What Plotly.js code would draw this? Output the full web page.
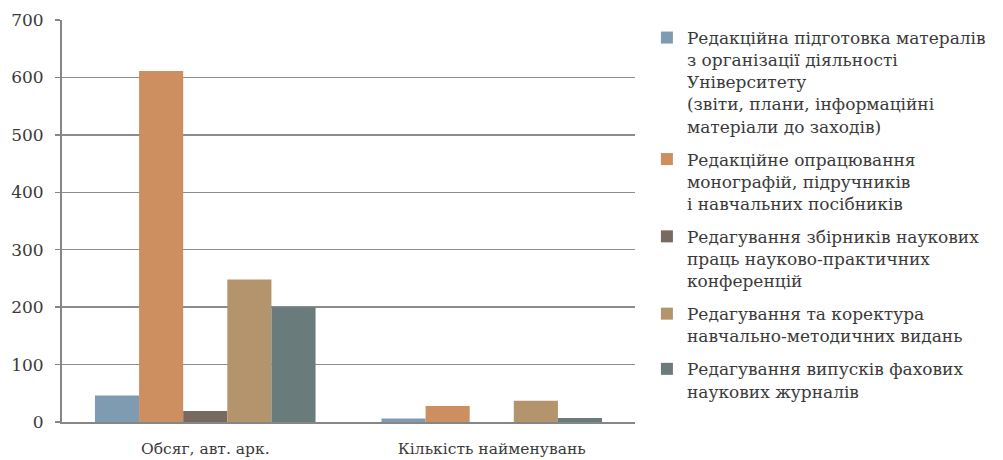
<!DOCTYPE html>
<html>
<head>
<meta charset="utf-8">
<script src="https://cdn.plot.ly/plotly-3.0.1.min.js"></script>
<style>html,body{margin:0;padding:0;background:#fff;}#chart{width:1003px;height:460px;}</style>
</head>
<body>
<div id="chart"></div>
<script>
const categories = ["Обсяг, авт. арк.", "Кількість найменувань"];
const seriesNames = [
  "Редакційна підготовка матералів<br>з організації діяльності<br>Університету<br>(звіти, плани, інформаційні<br>матеріали до заходів)",
  "Редакційне опрацювання<br>монографій, підручників<br>і навчальних посібників",
  "Редагування збірників наукових<br>праць науково-практичних<br>конференцій",
  "Редагування та коректура<br>навчально-методичних видань",
  "Редагування випусків фахових<br>наукових журналів"
];
const valsPrep = [46, 6];
const valsMono = [611, 28];
const valsConf = [19, 0];
const valsMethod = [248, 37];
const valsJournal = [200, 7];
const seriesValues = [valsPrep, valsMono, valsConf, valsMethod, valsJournal];
const colors = ["#7f9bb2", "#cd8e60", "#786a60", "#b3946d", "#6a7b7b"];
const yTicks = [0, 100, 200, 300, 400, 500, 600, 700];

const FONT = "DejaVu Serif, Liberation Serif, serif";
const traces = seriesNames.map((n, i) => ({
  type: "bar",
  name: n,
  x: categories,
  y: seriesValues[i],
  marker: {color: colors[i], line: {width: 0}},
  legendgroup: "g" + i,
  hoverinfo: "skip"
}));

const layout = {
  width: 1003, height: 460,
  margin: {l: 62, r: 363, t: 20, b: 38},
  paper_bgcolor: "#fff", plot_bgcolor: "#fff",
  barmode: "group", bargap: 0.23, bargroupgap: 0,
  font: {family: FONT, size: 15, color: "#3a3a3a"},
  showlegend: true,
  legend: {
    x: 1.0208, xanchor: "left", y: 1.0, yanchor: "top",
    xref: "paper", yref: "paper",
    traceorder: "grouped", tracegroupgap: 8,
    itemwidth: 30, valign: "top",
    font: {family: FONT, size: 17, color: "#3a3a3a"},
    bgcolor: "rgba(0,0,0,0)"
  },
  xaxis: {
    type: "category",
    showline: true, linecolor: "#868686", linewidth: 2,
    ticks: "", showgrid: false,
    tickfont: {family: FONT, size: 15.5, color: "#3a3a3a"},
    ticklabelstandoff: 11
  },
  yaxis: {
    range: [0, 700], tickvals: yTicks, ticktext: yTicks.map(String),
    showline: true, linecolor: "#868686", linewidth: 2,
    showgrid: true, gridcolor: "#8c8c8c", gridwidth: 1.5,
    ticks: "outside", ticklen: 5, tickcolor: "#868686", tickwidth: 1.5,
    tickfont: {family: FONT, size: 17, color: "#3a3a3a"},
    ticklabelstandoff: 8,
    zeroline: false, fixedrange: true
  }
};
Plotly.newPlot("chart", traces, layout, {displayModeBar: false, staticPlot: true});
</script>
</body>
</html>
